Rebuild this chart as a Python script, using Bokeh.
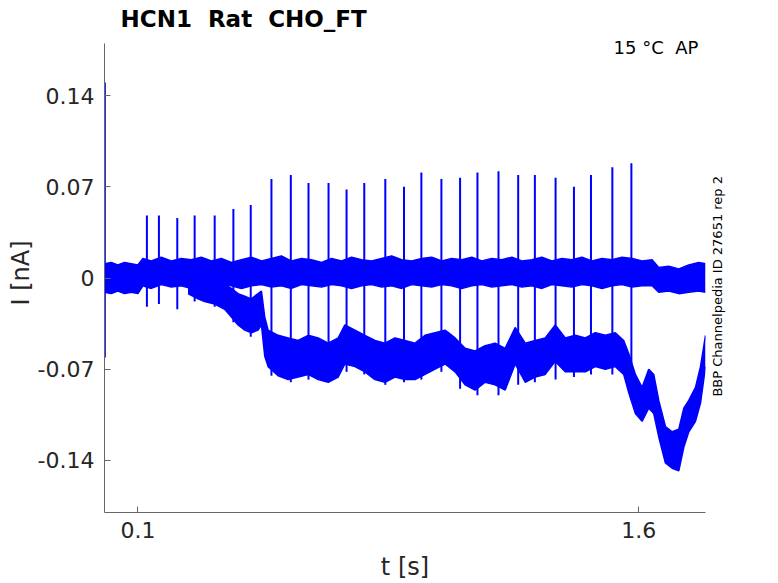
import math
from bokeh.plotting import figure
from bokeh.models import Range1d, FixedTicker, Label, LinearAxis
from bokeh.embed import file_html
from bokeh.resources import INLINE

# ---------------- data ----------------
title_text = "HCN1\u00a0 Rat\u00a0 CHO_FT"
corner_text = "15 °C\u00a0 AP"
side_text = "BBP Channelpedia ID 27651 rep 2"

x_lim = [0.0, 1.8]
y_lim = [-0.18, 0.18]
x_ticks = [0.1, 1.6]
x_tick_labels = ["0.1", "1.6"]
y_ticks = [-0.14, -0.07, 0.0, 0.07, 0.14]
y_tick_labels = ["-0.14", "-0.07", "0", "0.07", "0.14"]

# baseline trace (noise band envelope)
base_t = [0.000, 0.020, 0.040, 0.060, 0.080, 0.100, 0.115, 0.140,
          0.170, 0.200, 0.230, 0.260, 0.290, 0.320, 0.350, 0.380,
          0.410, 0.440, 0.470, 0.500, 0.530, 0.560, 0.590, 0.620,
          0.650, 0.680, 0.710, 0.740, 0.770, 0.800, 0.830, 0.860,
          0.890, 0.920, 0.950, 0.980, 1.010, 1.040, 1.070, 1.100,
          1.130, 1.160, 1.190, 1.220, 1.250, 1.280, 1.310, 1.340,
          1.370, 1.400, 1.430, 1.460, 1.490, 1.520, 1.550, 1.580,
          1.610, 1.640, 1.660, 1.690, 1.720, 1.750, 1.780, 1.800]
base_top = [0.011, 0.012, 0.010, 0.012, 0.011, 0.010, 0.015, 0.013,
            0.016, 0.013, 0.015, 0.014, 0.016, 0.013, 0.015, 0.012,
            0.014, 0.016, 0.013, 0.015, 0.017, 0.013, 0.015, 0.014,
            0.012, 0.015, 0.013, 0.016, 0.014, 0.013, 0.015, 0.017,
            0.014, 0.013, 0.015, 0.016, 0.013, 0.015, 0.014, 0.016,
            0.013, 0.015, 0.014, 0.016, 0.013, 0.014, 0.016, 0.013,
            0.015, 0.014, 0.016, 0.013, 0.015, 0.014, 0.016, 0.015,
            0.013, 0.014, 0.008, 0.009, 0.007, 0.010, 0.012, 0.011]
base_bot = [-0.011, -0.012, -0.010, -0.012, -0.011, -0.012, -0.006, -0.008,
            -0.005, -0.007, -0.006, -0.008, -0.006, -0.007, -0.005, -0.006,
            -0.008, -0.006, -0.005, -0.007, -0.006, -0.008, -0.005, -0.006,
            -0.007, -0.005, -0.006, -0.008, -0.006, -0.005, -0.007, -0.006,
            -0.008, -0.005, -0.006, -0.007, -0.005, -0.006, -0.008, -0.006,
            -0.005, -0.007, -0.006, -0.005, -0.007, -0.006, -0.008, -0.005,
            -0.006, -0.007, -0.005, -0.006, -0.008, -0.006, -0.005, -0.007,
            -0.006, -0.006, -0.011, -0.010, -0.012, -0.011, -0.010, -0.011]

# second trace drifting downward (noise band envelope)
low_t = [0.250, 0.280, 0.300, 0.330, 0.360, 0.380, 0.400, 0.420,
         0.440, 0.460, 0.470, 0.480, 0.490, 0.520, 0.550, 0.580,
         0.610, 0.640, 0.670, 0.700, 0.720, 0.750, 0.780, 0.810,
         0.840, 0.870, 0.900, 0.930, 0.960, 0.990, 1.020, 1.050,
         1.080, 1.110, 1.140, 1.170, 1.200, 1.230, 1.260, 1.290,
         1.320, 1.350, 1.380, 1.410, 1.440, 1.470, 1.500, 1.530,
         1.555, 1.570, 1.590, 1.610, 1.630, 1.645, 1.660, 1.680,
         1.700, 1.720, 1.735, 1.750, 1.770, 1.785, 1.800]
low_top = [-0.004, -0.002, -0.003, -0.004, -0.005, -0.008, -0.012, -0.014,
           -0.016, -0.012, -0.010, -0.030, -0.040, -0.044, -0.046, -0.048,
           -0.044, -0.046, -0.050, -0.046, -0.036, -0.040, -0.044, -0.048,
           -0.050, -0.046, -0.048, -0.050, -0.044, -0.042, -0.040, -0.046,
           -0.054, -0.056, -0.052, -0.050, -0.054, -0.038, -0.050, -0.048,
           -0.046, -0.036, -0.046, -0.044, -0.046, -0.042, -0.044, -0.042,
           -0.048, -0.058, -0.074, -0.084, -0.070, -0.074, -0.094, -0.114,
           -0.118, -0.116, -0.100, -0.094, -0.084, -0.068, -0.044]
low_bot = [-0.012, -0.016, -0.018, -0.020, -0.024, -0.030, -0.036, -0.040,
           -0.042, -0.040, -0.036, -0.060, -0.068, -0.075, -0.078, -0.076,
           -0.074, -0.078, -0.080, -0.076, -0.066, -0.068, -0.072, -0.078,
           -0.080, -0.076, -0.078, -0.078, -0.074, -0.070, -0.066, -0.072,
           -0.082, -0.086, -0.080, -0.082, -0.086, -0.066, -0.080, -0.076,
           -0.074, -0.064, -0.072, -0.072, -0.072, -0.068, -0.070, -0.068,
           -0.074, -0.088, -0.104, -0.110, -0.100, -0.104, -0.122, -0.142,
           -0.146, -0.148, -0.130, -0.118, -0.110, -0.096, -0.068]

# action-potential-like spikes
spike_t = [0.127, 0.163, 0.218, 0.270, 0.330, 0.386, 0.438, 0.500, 0.558,
           0.611, 0.671, 0.725, 0.778, 0.841, 0.897, 0.949, 1.009, 1.065,
           1.117, 1.180, 1.239, 1.289, 1.351, 1.406, 1.457, 1.521, 1.578]
spike_peak = [0.048, 0.048, 0.046, 0.048, 0.048, 0.053, 0.056, 0.076, 0.079,
              0.073, 0.073, 0.068, 0.073, 0.076, 0.070, 0.081, 0.076, 0.077,
              0.081, 0.082, 0.079, 0.079, 0.077, 0.070, 0.079, 0.085, 0.088]
spike_bot = [-0.022, -0.020, -0.024, -0.018, -0.022, -0.034, -0.045, -0.075, -0.080,
             -0.078, -0.080, -0.072, -0.074, -0.082, -0.080, -0.078, -0.072, -0.085,
             -0.090, -0.090, -0.082, -0.080, -0.078, -0.076, -0.074, -0.074, -0.085]

# initial capacitive transient
trans_t = [0.001]
trans_lo = [-0.061]
trans_hi = [0.150]

# ---------------- layout ----------------
W, H = 778, 583
FR_L, FR_R, FR_T, FR_B = 104, 705, 43, 512      # where the axes box sits
TOP_PAD = 33                                      # room for the title
px_x = (FR_R - FR_L) / (x_lim[1] - x_lim[0])
px_y = (FR_B - FR_T) / (y_lim[1] - y_lim[0])
y_end = y_lim[1] + (FR_T - TOP_PAD) / px_y        # frame extended up to the title

BLUE = "#0000FF"
TXT = "#262626"
AX = "#666666"
FONT = "DejaVu Sans"

p = figure(width=W, height=H, output_backend="svg", toolbar_location=None,
           x_range=Range1d(x_lim[0], x_lim[1]), y_range=Range1d(y_lim[0], y_end),
           min_border_left=FR_L, min_border_right=W - FR_R,
           min_border_top=TOP_PAD, min_border_bottom=H - FR_B)
p.outline_line_color = None
p.grid.visible = False
p.background_fill_color = "white"
p.border_fill_color = "white"

p.title.text = title_text
p.title.text_font = FONT
p.title.text_font_size = "23px"
p.title.text_font_style = "bold"
p.title.text_color = "#000000"
p.title.align = "left"
p.title.offset = 16
p.title.standoff = 0
p.title.vertical_align = "top"

xa = p.xaxis[0]
ya = p.yaxis[0]
ya.bounds = (y_lim[0], y_lim[1])
xa.ticker = FixedTicker(ticks=x_ticks)
ya.ticker = FixedTicker(ticks=y_ticks)
xa.major_label_overrides = {t: s for t, s in zip(x_ticks, x_tick_labels)}
ya.major_label_overrides = {t: s for t, s in zip(y_ticks, y_tick_labels)}
xa.axis_label = "t [s]"
ya.axis_label = "I [nA]"
for ax in (xa, ya):
    ax.axis_line_color = AX
    ax.axis_line_width = 1
    ax.major_tick_line_color = AX
    ax.major_tick_in = 6
    ax.major_tick_out = 0
    ax.minor_tick_line_color = None
    ax.major_label_text_font = FONT
    ax.major_label_text_font_size = "22px"
    ax.major_label_text_color = TXT
    ax.axis_label_text_font = FONT
    ax.axis_label_text_font_size = "24px"
    ax.axis_label_text_font_style = "normal"
    ax.axis_label_text_color = TXT
xa.major_label_standoff = 9
xa.axis_label_standoff = 12
ya.major_label_standoff = 10
ya.axis_label_standoff = 0

# right-hand vertical note: the single (rotated) tick label of an empty right axis,
# anchored where the text starts (its lower end)
side_start = round(y_lim[1] - (396 - FR_T) / px_y, 3)
side_axis = LinearAxis(ticker=FixedTicker(ticks=[side_start]),
                       major_label_overrides={side_start: side_text},
                       axis_line_color=None, major_tick_line_color=None,
                       minor_tick_line_color=None, major_tick_in=0,
                       major_tick_out=0, minor_tick_in=0, minor_tick_out=0,
                       major_label_standoff=12,
                       major_label_orientation=math.pi / 2,
                       major_label_text_font=FONT,
                       major_label_text_font_size="13px",
                       major_label_text_color="#000000")
p.add_layout(side_axis, "right")

# traces
p.varea(x=base_t, y1=base_bot, y2=base_top, fill_color=BLUE)
p.line(base_t, base_top, line_color=BLUE, line_width=1.5)
p.line(base_t, base_bot, line_color=BLUE, line_width=1.5)
p.varea(x=low_t, y1=low_bot, y2=low_top, fill_color=BLUE)
p.line(low_t, low_top, line_color=BLUE, line_width=1.5)
p.line(low_t, low_bot, line_color=BLUE, line_width=1.5)
p.segment(x0=spike_t, y0=spike_bot, x1=spike_t, y1=spike_peak,
          line_color=BLUE, line_width=2)
p.segment(x0=trans_t, y0=trans_lo, x1=trans_t, y1=trans_hi,
          line_color=BLUE, line_width=2)

# corner note (data units of the upward-extended frame)
corner_x = x_lim[0] + (613 - FR_L) / px_x
corner_y = y_lim[1] - (47.3 - FR_T) / px_y
p.add_layout(Label(x=corner_x, y=corner_y, text=corner_text, text_font=FONT,
                   text_font_size="18px", text_color="#000000",
                   text_align="left", text_baseline="alphabetic"))

open("out.html", "w").write(file_html(p, INLINE))
